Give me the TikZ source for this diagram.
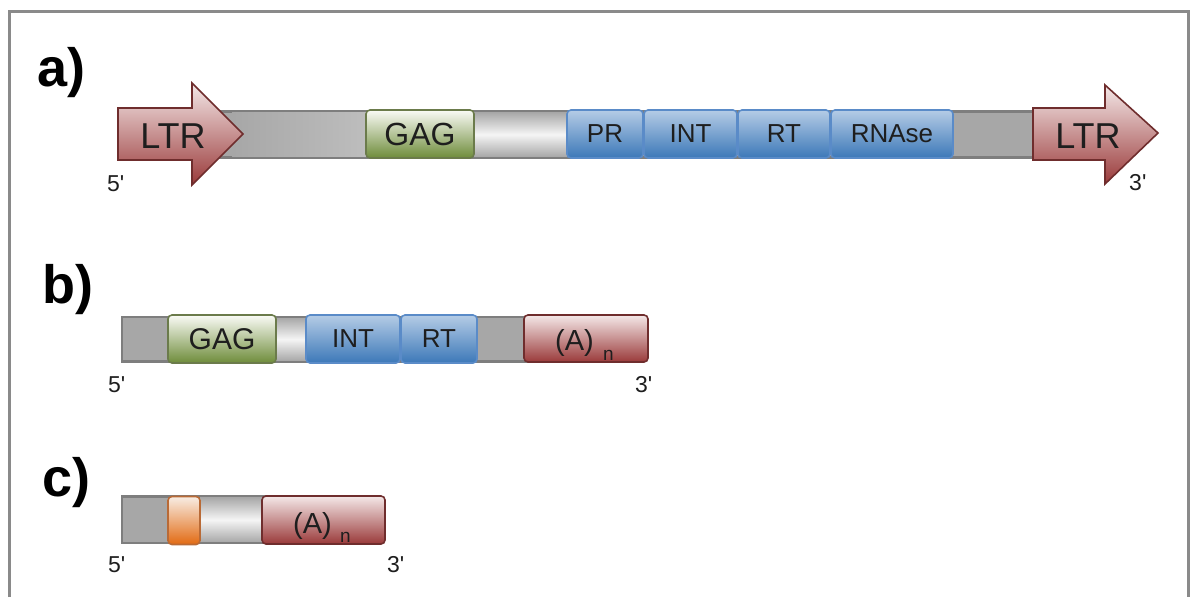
\documentclass[tikz,border=0pt]{standalone}
\usepackage{fontspec}
\setmainfont{Liberation Sans}
% same face without the TeX quote ligatures, so ' stays a straight tick
\newfontfamily\tickfont{Liberation Sans}[Ligatures=ResetAll]
\definecolor{framec}{HTML}{8A8A8A}
\definecolor{barfill}{HTML}{A7A7A7}
\definecolor{barline}{HTML}{7E7E7E}
\definecolor{gapedge}{HTML}{A9A9A9}
\definecolor{gagtop}{HTML}{FAFBF6}
\definecolor{gagbot}{HTML}{6E8C3A}
\definecolor{gagline}{HTML}{6B7B4B}
\definecolor{poltop}{HTML}{B5CCE6}
\definecolor{polbot}{HTML}{3C78B8}
\definecolor{polline}{HTML}{5A8BC8}
\definecolor{ltrtop}{HTML}{F4E8E8}
\definecolor{ltrbot}{HTML}{9A3A3A}
\definecolor{ltrline}{HTML}{6F2D2D}
\definecolor{ortop}{HTML}{F8EDE4}
\definecolor{orbot}{HTML}{E26A12}
\definecolor{orline}{HTML}{B96A36}
\definecolor{txt}{HTML}{1E1E1E}
\begin{document}
\begin{tikzpicture}[x=1pt,y=-1pt,
  bar/.style={fill=barfill, draw=barline, line width=2.2pt},
  gap/.style={top color=gapedge, bottom color=gapedge, middle color=white!96!black, draw=none},
  seg/.style={rounded corners=4pt, line width=1.6pt, inner sep=0pt, minimum height=48pt, text=txt},
  gagbox/.style={seg, draw=gagline, top color=gagtop, bottom color=gagbot, font=\fontsize{32}{32}\selectfont},
  polbox/.style={seg, draw=polline, top color=poltop, bottom color=polbot, font=\fontsize{26}{26}\selectfont},
  ltrbox/.style={seg, draw=ltrline, top color=ltrtop, bottom color=ltrbot},
  orbox/.style={seg, draw=orline, top color=ortop, bottom color=orbot},
  ltrarrow/.style={draw=ltrline, line width=1.6pt, top color=ltrtop, bottom color=ltrbot, line join=miter},
  ltrtext/.style={anchor=base, text=txt, font=\fontsize{36}{36}\selectfont, inner sep=0pt},
  panel/.style={anchor=base west, inner sep=0pt, font=\fontsize{54}{54}\selectfont\bfseries},
  endlabel/.style={anchor=base west, inner sep=0pt, text=txt, font=\tickfont\fontsize{23}{23}\selectfont},
  polyA/.style={anchor=base west, inner sep=0pt, text=txt, font=\fontsize{29}{29}\selectfont},
  polyn/.style={anchor=base west, inner sep=0pt, text=txt, font=\fontsize{19}{19}\selectfont}]
\useasboundingbox (0,0) rectangle (1190,597);
\fill[white] (0,0) rectangle (1190,597);
% outer frame
\draw[framec, line width=3pt] (9.5,597) |- (1188,11.5) -- (1188,597);

% ---------- a) full retrotransposon with LTRs ----------
\node[panel] (la) at (37,86) {a)};
\path[bar] (215,111.5) rectangle (1045,157.5);
\shade[left color=barfill, right color=barfill!75!white] (232,112.6) rectangle (366,156.4);
\shade[gap] (474,112.6) rectangle (567,156.4);
\node[gagbox, minimum width=108pt] (gaga) at (420,134) {GAG};
\node[polbox, minimum width=76pt]  (pra)  at (605,134) {PR};
\node[polbox, minimum width=93pt]  (inta) at (690.5,134) {INT};
\node[polbox, minimum width=92pt]  (rta)  at (784,134) {RT};
\node[polbox, minimum width=122pt] (rna)  at (892,134) {RNAse};
\path[ltrarrow] (118,108) -- (192,108) -- (192,83) -- (243,134) -- (192,185) -- (192,160) -- (118,160) -- cycle;
\node[ltrtext] (ltrl) at (173,148) {LTR};
\path[ltrarrow] (1033,108) -- (1105,108) -- (1105,85) -- (1158,133) -- (1105,184) -- (1105,160) -- (1033,160) -- cycle;
\node[ltrtext] (ltrr) at (1088,148) {LTR};
\node[endlabel] (a5) at (107,191) {5'};
\node[endlabel] (a3) at (1129,190) {3'};

% ---------- b) non-LTR retrotransposon ----------
\node[panel] (lb) at (42,303) {b)};
\path[bar] (122,317) rectangle (530,361.5);
\shade[gap] (276,318.1) rectangle (306,360.4);
\node[gagbox, minimum width=108pt, font=\fontsize{30}{30}\selectfont] (gagb) at (222,339) {GAG};
\node[polbox, minimum width=94pt] (intb) at (353,339) {INT};
\node[polbox, minimum width=76pt] (rtb)  at (439,339) {RT};
\node[ltrbox, minimum width=124pt, minimum height=47pt] (polyb) at (586,338.5) {};
\node[polyA] (ab) at (555,350) {(A)};
\node[polyn] (nb) at (603,360) {n};
\node[endlabel] (b5) at (108,392) {5'};
\node[endlabel] (b3) at (635,392) {3'};

% ---------- c) SINE ----------
\node[panel] (lc) at (42,496) {c)};
\path[bar] (122,496.5) rectangle (268,543);
\shade[gap] (200,497.6) rectangle (262,541.9);
\node[orbox, minimum width=32pt] (boxc) at (184,520.5) {};
\node[ltrbox, minimum width=123pt] (polyc) at (323.5,520) {};
\node[polyA] (ac) at (293,533) {(A)};
\node[polyn] (nc) at (340,542) {n};
\node[endlabel] (c5) at (108,572) {5'};
\node[endlabel] (c3) at (387,572) {3'};
\end{tikzpicture}
\end{document}
